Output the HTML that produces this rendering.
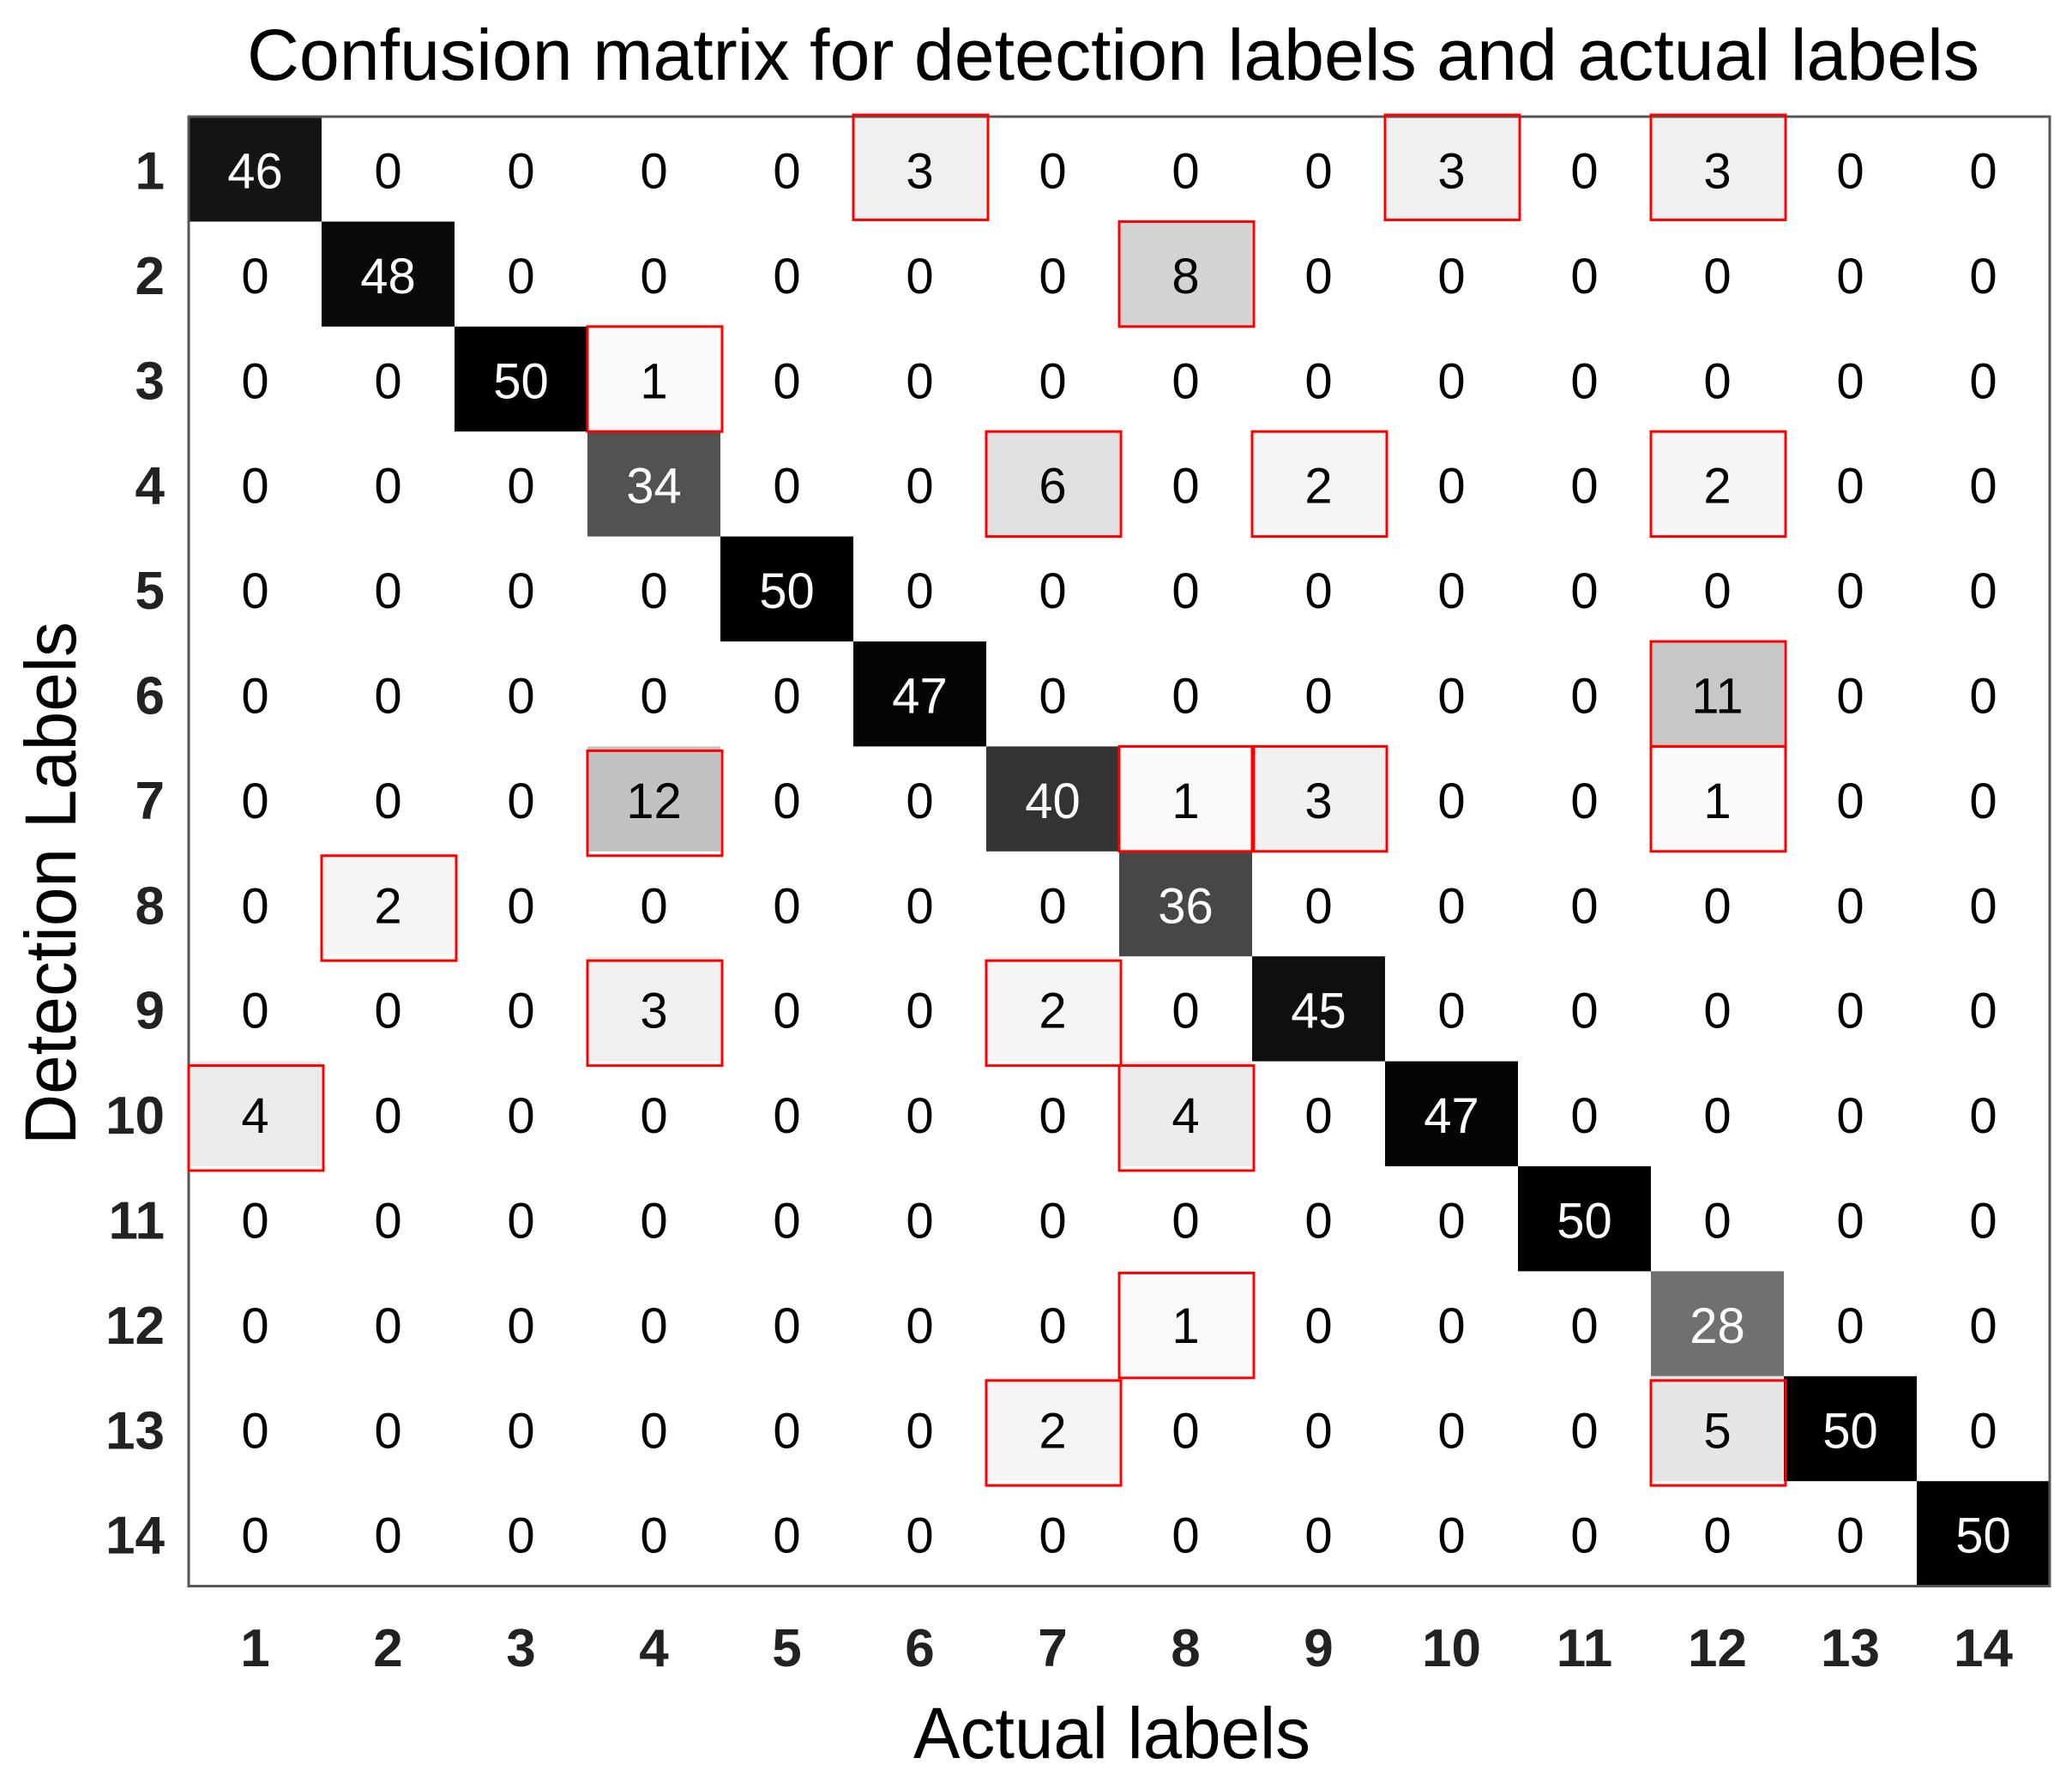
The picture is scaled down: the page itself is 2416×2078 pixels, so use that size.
<!DOCTYPE html>
<html><head><meta charset="utf-8"><style>
html,body{margin:0;padding:0;background:#fff}
svg{display:block}
.n{font-family:"Liberation Sans",Arial,sans-serif;font-size:58px;text-anchor:middle}
.w{fill:#fff}
.l{font-family:"Liberation Sans",Arial,sans-serif;font-size:62px;font-weight:bold;fill:#222}
.t{font-family:"Liberation Sans",sans-serif;font-size:84px;fill:#000}
</style></head><body>
<svg width="2416" height="2078" viewBox="0 0 2416 2078" xmlns="http://www.w3.org/2000/svg">
<rect width="2416" height="2078" fill="#fff"/>
<text class="t" x="288" y="93" textLength="2020" lengthAdjust="spacingAndGlyphs">Confusion matrix for detection labels and actual labels</text>
<!-- cells -->
<g>
<rect x="220" y="136" width="155" height="122.4" fill="#141414"/>
<rect x="995" y="136" width="155" height="122.4" fill="#f0f0f0"/>
<rect x="1615" y="136" width="155" height="122.4" fill="#f0f0f0"/>
<rect x="1925" y="136" width="155" height="122.4" fill="#f0f0f0"/>
<rect x="375" y="258.4" width="155" height="122.4" fill="#0a0a0a"/>
<rect x="1305" y="258.4" width="155" height="122.4" fill="#d4d4d4"/>
<rect x="530" y="380.8" width="155" height="122.4" fill="#000"/>
<rect x="685" y="380.8" width="155" height="122.4" fill="#fafafa"/>
<rect x="685" y="503.2" width="155" height="122.4" fill="#525252"/>
<rect x="1150" y="503.2" width="155" height="122.4" fill="#e0e0e0"/>
<rect x="1460" y="503.2" width="155" height="122.4" fill="#f5f5f5"/>
<rect x="1925" y="503.2" width="155" height="122.4" fill="#f5f5f5"/>
<rect x="840" y="625.6" width="155" height="122.4" fill="#000"/>
<rect x="995" y="748" width="155" height="122.4" fill="#050505"/>
<rect x="1925" y="748" width="155" height="122.4" fill="#c7c7c7"/>
<rect x="685" y="870.4" width="155" height="122.4" fill="#c2c2c2"/>
<rect x="1150" y="870.4" width="155" height="122.4" fill="#333"/>
<rect x="1305" y="870.4" width="155" height="122.4" fill="#fafafa"/>
<rect x="1460" y="870.4" width="155" height="122.4" fill="#f0f0f0"/>
<rect x="1925" y="870.4" width="155" height="122.4" fill="#fafafa"/>
<rect x="375" y="992.8" width="155" height="122.4" fill="#f5f5f5"/>
<rect x="1305" y="992.8" width="155" height="122.4" fill="#474747"/>
<rect x="685" y="1115.2" width="155" height="122.4" fill="#f0f0f0"/>
<rect x="1150" y="1115.2" width="155" height="122.4" fill="#f5f5f5"/>
<rect x="1460" y="1115.2" width="155" height="122.4" fill="#0f0f0f"/>
<rect x="220" y="1237.6" width="155" height="122.4" fill="#ebebeb"/>
<rect x="1305" y="1237.6" width="155" height="122.4" fill="#ebebeb"/>
<rect x="1615" y="1237.6" width="155" height="122.4" fill="#050505"/>
<rect x="1770" y="1360" width="155" height="122.4" fill="#000"/>
<rect x="1305" y="1482.4" width="155" height="122.4" fill="#fafafa"/>
<rect x="1925" y="1482.4" width="155" height="122.4" fill="#707070"/>
<rect x="1150" y="1604.8" width="155" height="122.4" fill="#f5f5f5"/>
<rect x="1925" y="1604.8" width="155" height="122.4" fill="#e6e6e6"/>
<rect x="2080" y="1604.8" width="155" height="122.4" fill="#000"/>
<rect x="2235" y="1727.2" width="155" height="122.4" fill="#000"/>
</g>
<rect x="220" y="136" width="2170" height="1713.6" fill="none" stroke="#555" stroke-width="3"/>
<!-- red boxes -->
<g fill="none" stroke="#f00" stroke-width="3">
<rect x="995" y="134" width="157" height="122.4"/>
<rect x="1615" y="134" width="157" height="122.4"/>
<rect x="1925" y="134" width="157" height="122.4"/>
<rect x="1305" y="258.4" width="157" height="122.4"/>
<rect x="685" y="380.8" width="157" height="122.4"/>
<rect x="1150" y="503.2" width="157" height="122.4"/>
<rect x="1460" y="503.2" width="157" height="122.4"/>
<rect x="1925" y="503.2" width="157" height="122.4"/>
<rect x="1925" y="748" width="157" height="122.4"/>
<rect x="685" y="875.4" width="157" height="122.4"/>
<rect x="1305" y="870.4" width="157" height="122.4"/>
<rect x="1460" y="870.4" width="157" height="122.4"/>
<rect x="1925" y="870.4" width="157" height="122.4"/>
<rect x="375" y="997.8" width="157" height="122.4"/>
<rect x="685" y="1120.2" width="157" height="122.4"/>
<rect x="1150" y="1120.2" width="157" height="122.4"/>
<rect x="220" y="1242.6" width="157" height="122.4"/>
<rect x="1305" y="1242.6" width="157" height="122.4"/>
<rect x="1305" y="1484.4" width="157" height="122.4"/>
<rect x="1150" y="1609.8" width="157" height="122.4"/>
<rect x="1925" y="1609.8" width="157" height="122.4"/>
</g>
<!-- numbers -->
<g class="n" dominant-baseline="central">
<g transform="translate(0,200)"><text class="n w" x="297.5">46</text><text class="n" x="452.5">0</text><text class="n" x="607.5">0</text><text class="n" x="762.5">0</text><text class="n" x="917.5">0</text><text class="n" x="1072.5">3</text><text class="n" x="1227.5">0</text><text class="n" x="1382.5">0</text><text class="n" x="1537.5">0</text><text class="n" x="1692.5">3</text><text class="n" x="1847.5">0</text><text class="n" x="2002.5">3</text><text class="n" x="2157.5">0</text><text class="n" x="2312.5">0</text></g>
<g transform="translate(0,322.4)"><text class="n" x="297.5">0</text><text class="n w" x="452.5">48</text><text class="n" x="607.5">0</text><text class="n" x="762.5">0</text><text class="n" x="917.5">0</text><text class="n" x="1072.5">0</text><text class="n" x="1227.5">0</text><text class="n" x="1382.5">8</text><text class="n" x="1537.5">0</text><text class="n" x="1692.5">0</text><text class="n" x="1847.5">0</text><text class="n" x="2002.5">0</text><text class="n" x="2157.5">0</text><text class="n" x="2312.5">0</text></g>
<g transform="translate(0,444.8)"><text class="n" x="297.5">0</text><text class="n" x="452.5">0</text><text class="n w" x="607.5">50</text><text class="n" x="762.5">1</text><text class="n" x="917.5">0</text><text class="n" x="1072.5">0</text><text class="n" x="1227.5">0</text><text class="n" x="1382.5">0</text><text class="n" x="1537.5">0</text><text class="n" x="1692.5">0</text><text class="n" x="1847.5">0</text><text class="n" x="2002.5">0</text><text class="n" x="2157.5">0</text><text class="n" x="2312.5">0</text></g>
<g transform="translate(0,567.2)"><text class="n" x="297.5">0</text><text class="n" x="452.5">0</text><text class="n" x="607.5">0</text><text class="n w" x="762.5">34</text><text class="n" x="917.5">0</text><text class="n" x="1072.5">0</text><text class="n" x="1227.5">6</text><text class="n" x="1382.5">0</text><text class="n" x="1537.5">2</text><text class="n" x="1692.5">0</text><text class="n" x="1847.5">0</text><text class="n" x="2002.5">2</text><text class="n" x="2157.5">0</text><text class="n" x="2312.5">0</text></g>
<g transform="translate(0,689.6)"><text class="n" x="297.5">0</text><text class="n" x="452.5">0</text><text class="n" x="607.5">0</text><text class="n" x="762.5">0</text><text class="n w" x="917.5">50</text><text class="n" x="1072.5">0</text><text class="n" x="1227.5">0</text><text class="n" x="1382.5">0</text><text class="n" x="1537.5">0</text><text class="n" x="1692.5">0</text><text class="n" x="1847.5">0</text><text class="n" x="2002.5">0</text><text class="n" x="2157.5">0</text><text class="n" x="2312.5">0</text></g>
<g transform="translate(0,812)"><text class="n" x="297.5">0</text><text class="n" x="452.5">0</text><text class="n" x="607.5">0</text><text class="n" x="762.5">0</text><text class="n" x="917.5">0</text><text class="n w" x="1072.5">47</text><text class="n" x="1227.5">0</text><text class="n" x="1382.5">0</text><text class="n" x="1537.5">0</text><text class="n" x="1692.5">0</text><text class="n" x="1847.5">0</text><text class="n" x="2002.5">11</text><text class="n" x="2157.5">0</text><text class="n" x="2312.5">0</text></g>
<g transform="translate(0,934.4)"><text class="n" x="297.5">0</text><text class="n" x="452.5">0</text><text class="n" x="607.5">0</text><text class="n" x="762.5">12</text><text class="n" x="917.5">0</text><text class="n" x="1072.5">0</text><text class="n w" x="1227.5">40</text><text class="n" x="1382.5">1</text><text class="n" x="1537.5">3</text><text class="n" x="1692.5">0</text><text class="n" x="1847.5">0</text><text class="n" x="2002.5">1</text><text class="n" x="2157.5">0</text><text class="n" x="2312.5">0</text></g>
<g transform="translate(0,1056.8)"><text class="n" x="297.5">0</text><text class="n" x="452.5">2</text><text class="n" x="607.5">0</text><text class="n" x="762.5">0</text><text class="n" x="917.5">0</text><text class="n" x="1072.5">0</text><text class="n" x="1227.5">0</text><text class="n w" x="1382.5">36</text><text class="n" x="1537.5">0</text><text class="n" x="1692.5">0</text><text class="n" x="1847.5">0</text><text class="n" x="2002.5">0</text><text class="n" x="2157.5">0</text><text class="n" x="2312.5">0</text></g>
<g transform="translate(0,1179.2)"><text class="n" x="297.5">0</text><text class="n" x="452.5">0</text><text class="n" x="607.5">0</text><text class="n" x="762.5">3</text><text class="n" x="917.5">0</text><text class="n" x="1072.5">0</text><text class="n" x="1227.5">2</text><text class="n" x="1382.5">0</text><text class="n w" x="1537.5">45</text><text class="n" x="1692.5">0</text><text class="n" x="1847.5">0</text><text class="n" x="2002.5">0</text><text class="n" x="2157.5">0</text><text class="n" x="2312.5">0</text></g>
<g transform="translate(0,1301.6)"><text class="n" x="297.5">4</text><text class="n" x="452.5">0</text><text class="n" x="607.5">0</text><text class="n" x="762.5">0</text><text class="n" x="917.5">0</text><text class="n" x="1072.5">0</text><text class="n" x="1227.5">0</text><text class="n" x="1382.5">4</text><text class="n" x="1537.5">0</text><text class="n w" x="1692.5">47</text><text class="n" x="1847.5">0</text><text class="n" x="2002.5">0</text><text class="n" x="2157.5">0</text><text class="n" x="2312.5">0</text></g>
<g transform="translate(0,1424)"><text class="n" x="297.5">0</text><text class="n" x="452.5">0</text><text class="n" x="607.5">0</text><text class="n" x="762.5">0</text><text class="n" x="917.5">0</text><text class="n" x="1072.5">0</text><text class="n" x="1227.5">0</text><text class="n" x="1382.5">0</text><text class="n" x="1537.5">0</text><text class="n" x="1692.5">0</text><text class="n w" x="1847.5">50</text><text class="n" x="2002.5">0</text><text class="n" x="2157.5">0</text><text class="n" x="2312.5">0</text></g>
<g transform="translate(0,1546.4)"><text class="n" x="297.5">0</text><text class="n" x="452.5">0</text><text class="n" x="607.5">0</text><text class="n" x="762.5">0</text><text class="n" x="917.5">0</text><text class="n" x="1072.5">0</text><text class="n" x="1227.5">0</text><text class="n" x="1382.5">1</text><text class="n" x="1537.5">0</text><text class="n" x="1692.5">0</text><text class="n" x="1847.5">0</text><text class="n w" x="2002.5">28</text><text class="n" x="2157.5">0</text><text class="n" x="2312.5">0</text></g>
<g transform="translate(0,1668.8)"><text class="n" x="297.5">0</text><text class="n" x="452.5">0</text><text class="n" x="607.5">0</text><text class="n" x="762.5">0</text><text class="n" x="917.5">0</text><text class="n" x="1072.5">0</text><text class="n" x="1227.5">2</text><text class="n" x="1382.5">0</text><text class="n" x="1537.5">0</text><text class="n" x="1692.5">0</text><text class="n" x="1847.5">0</text><text class="n" x="2002.5">5</text><text class="n w" x="2157.5">50</text><text class="n" x="2312.5">0</text></g>
<g transform="translate(0,1791.2)"><text class="n" x="297.5">0</text><text class="n" x="452.5">0</text><text class="n" x="607.5">0</text><text class="n" x="762.5">0</text><text class="n" x="917.5">0</text><text class="n" x="1072.5">0</text><text class="n" x="1227.5">0</text><text class="n" x="1382.5">0</text><text class="n" x="1537.5">0</text><text class="n" x="1692.5">0</text><text class="n" x="1847.5">0</text><text class="n" x="2002.5">0</text><text class="n" x="2157.5">0</text><text class="n w" x="2312.5">50</text></g>
</g>
<!-- row labels -->
<g class="l" text-anchor="end" dominant-baseline="central">
<text x="192" y="200">1</text><text x="192" y="322.4">2</text><text x="192" y="444.8">3</text><text x="192" y="567.2">4</text><text x="192" y="689.6">5</text><text x="192" y="812">6</text><text x="192" y="934.4">7</text><text x="192" y="1056.8">8</text><text x="192" y="1179.2">9</text><text x="192" y="1301.6">10</text><text x="192" y="1424">11</text><text x="192" y="1546.4">12</text><text x="192" y="1668.8">13</text><text x="192" y="1791.2">14</text>
</g>
<!-- col labels -->
<g class="l" text-anchor="middle">
<text x="297.5" y="1943">1</text><text x="452.5" y="1943">2</text><text x="607.5" y="1943">3</text><text x="762.5" y="1943">4</text><text x="917.5" y="1943">5</text><text x="1072.5" y="1943">6</text><text x="1227.5" y="1943">7</text><text x="1382.5" y="1943">8</text><text x="1537.5" y="1943">9</text><text x="1692.5" y="1943">10</text><text x="1847.5" y="1943">11</text><text x="2002.5" y="1943">12</text><text x="2157.5" y="1943">13</text><text x="2312.5" y="1943">14</text>
</g>
<text class="t" x="1065" y="2050" textLength="463" lengthAdjust="spacingAndGlyphs">Actual labels</text>
<text class="t" transform="translate(88,1335) rotate(-90)" x="0" y="0" textLength="610" lengthAdjust="spacingAndGlyphs">Detection Labels</text>
</svg>
</body></html>
